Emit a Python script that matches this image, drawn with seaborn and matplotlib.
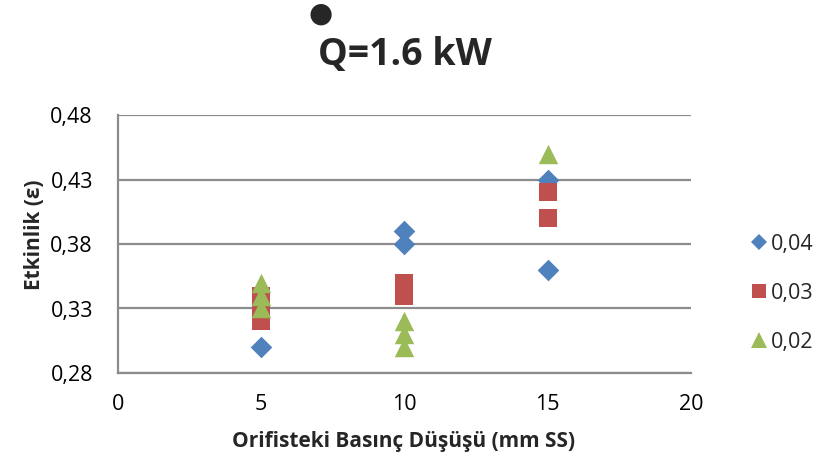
import matplotlib
matplotlib.use("Agg")
import matplotlib.pyplot as plt
from matplotlib.lines import Line2D
from matplotlib.ticker import FuncFormatter
import seaborn as sns
import pandas as pd

# Orifice pressure drop (mm SS) and effectiveness for three series
series_labels = ["0,04", "0,03", "0,02"]
x_004 = [5, 10, 10, 15, 15]
y_004 = [0.30, 0.39, 0.38, 0.43, 0.36]
x_003 = [5, 5, 5, 10, 10, 15, 15]
y_003 = [0.34, 0.33, 0.32, 0.35, 0.34, 0.42, 0.40]
x_002 = [5, 5, 5, 10, 10, 10, 15]
y_002 = [0.35, 0.34, 0.33, 0.32, 0.31, 0.30, 0.45]
y_ticks = [0.28, 0.33, 0.38, 0.43, 0.48]
x_ticks = [0, 5, 10, 15, 20]

colors = {"0,04": "#4F81BD", "0,03": "#C0504D", "0,02": "#9BBB59"}
markers = {"0,04": "D", "0,03": "s", "0,02": "^"}
sizes = {"0,04": 11, "0,03": 13.5, "0,02": 14}

df = pd.concat([
    pd.DataFrame({"x": x_004, "y": y_004, "seri": "0,04"}),
    pd.DataFrame({"x": x_003, "y": y_003, "seri": "0,03"}),
    pd.DataFrame({"x": x_002, "y": y_002, "seri": "0,02"}),
], ignore_index=True)

sns.set_style("white")
plt.rcParams["font.family"] = ["Open Sans", "DejaVu Sans"]

fig = plt.figure(figsize=(8.19, 4.65), dpi=100)
ax = fig.add_axes([118 / 819, 1 - 373 / 465, (691 - 118) / 819, (373 - 115) / 465])

for lab in series_labels:
    sub = df[df["seri"] == lab]
    sns.scatterplot(data=sub, x="x", y="y", ax=ax, color=colors[lab],
                    marker=markers[lab], s=sizes[lab] ** 2, linewidth=0,
                    legend=False, zorder=3)

ax.set_xlim(0, 20)
ax.set_ylim(0.28, 0.48)
ax.set_xticks(x_ticks)
ax.set_yticks(y_ticks)
ax.yaxis.set_major_formatter(FuncFormatter(lambda v, p: f"{v:.2f}".replace(".", ",")))
ax.xaxis.set_major_formatter(FuncFormatter(lambda v, p: f"{v:g}"))
ax.tick_params(axis="both", length=0, labelsize=15.5, colors="black")
ax.tick_params(axis="x", pad=15)
ax.tick_params(axis="y", pad=18)
ax.grid(axis="y", color="#8C8C8C", linewidth=1.6)
ax.grid(axis="x", visible=False)
for side in ["top", "right"]:
    ax.spines[side].set_visible(False)
for side in ["left", "bottom"]:
    ax.spines[side].set_color("#8C8C8C")
    ax.spines[side].set_linewidth(1.6)

ax.set_xlabel("Orifisteki Basınç Düşüşü (mm SS)", fontsize=15, fontweight="bold")
ax.set_ylabel("Etkinlik (ε)", fontsize=15, fontweight="bold")
ax.xaxis.set_label_coords((404 - 118) / (691 - 118), -(441 - 373) / (373 - 115))
ax.yaxis.set_label_coords(-(118 - 35) / (691 - 118), (373 - 235) / (373 - 115))
ax.xaxis.label.set_va("center")
ax.yaxis.label.set_va("center")

# Title Q̇ = 1.6 kW with the rate dot above Q
fig.text(405 / 819, 1 - 55 / 465, "Q=1.6 kW", ha="center", va="center",
         fontsize=27, fontweight="bold")
fig.text(321 / 819, 1 - 14 / 465, "●", ha="center", va="center", fontsize=20,
         family=["DejaVu Sans"])

handles = [Line2D([], [], linestyle="none", marker=markers[l], color=colors[l],
                  markersize=sizes[l] * 0.78, markeredgewidth=0) for l in series_labels]
leg = fig.legend(handles, series_labels, loc="center left",
                 bbox_to_anchor=(739 / 819, 1 - 293.5 / 465), frameon=False,
                 fontsize=15.5, labelspacing=1.3, handlelength=0.9,
                 handletextpad=0.1, borderpad=0)

fig.savefig("out.png", dpi=100, facecolor="white")
